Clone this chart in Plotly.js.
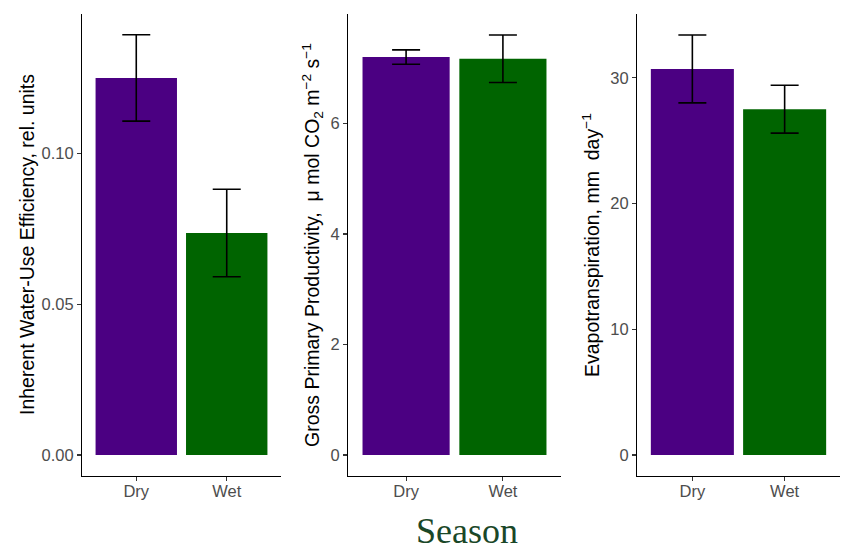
<!DOCTYPE html>
<html>
<head>
<meta charset="utf-8">
<script src="https://cdn.plot.ly/plotly-3.0.1.min.js"></script>
<style>html,body{margin:0;padding:0;background:#fff;}#chart{width:846px;height:550px;}</style>
</head>
<body>
<div id="chart"></div>
<script>
// ---- data ----
const seasons = ["Dry", "Wet"];
const barColors = ["#4B0082", "#006400"];

const wueMean = [0.125, 0.0736];
const wueErr  = [0.0143, 0.0145];

const gppMean = [7.20, 7.17];
const gppErr  = [0.13, 0.43];

const etMean = [30.7, 27.5];
const etErr  = [2.7, 1.9];

const wueTicks = [0, 0.05, 0.10];
const wueTickLabels = ["0.00", "0.05", "0.10"];
const gppTicks = [0, 2, 4, 6];
const etTicks = [0, 10, 20, 30];

const titles = [
  "Inherent Water-Use Efficiency, rel. units",
  "Gross Primary Productivity, &nbsp;\u03bc mol CO<sub>2</sub> m<sup>\u22122</sup> s<sup>\u22121</sup>",
  "Evapotranspiration, mm &nbsp;day<sup>\u22121</sup>"
];
const xTitle = "Season";

// ---- layout helpers ----
const W = 846, H = 550;
const plotTop = 14, plotBottom = 476;
const yDom = [(H - plotBottom) / H, (H - plotTop) / H];
const panels = [
  {left: 82, right: 281, mean: wueMean, err: wueErr, ticks: wueTicks, labels: wueTickLabels, range: [-0.00696, 0.1462], titleX: 27},
  {left: 348, right: 561, mean: gppMean, err: gppErr, ticks: gppTicks, labels: gppTicks.map(String), range: [-0.38, 7.98], titleX: 312},
  {left: 637, right: 840, mean: etMean, err: etErr, ticks: etTicks, labels: etTicks.map(String), range: [-1.67, 35.07], titleX: 591}
];

const data = [];
const layout = {
  width: W, height: H,
  margin: {l: 0, r: 0, t: 0, b: 0},
  paper_bgcolor: "#ffffff",
  plot_bgcolor: "#ffffff",
  showlegend: false,
  font: {family: "Liberation Sans, Arial, Helvetica, sans-serif", color: "#000"},
  annotations: []
};

panels.forEach((p, i) => {
  const n = i === 0 ? "" : String(i + 1);
  data.push({
    type: "bar",
    x: seasons,
    y: p.mean,
    width: 0.9,
    xaxis: "x" + n,
    yaxis: "y" + n,
    marker: {color: barColors, line: {width: 0}},
    error_y: {type: "data", array: p.err, visible: true, color: "#000000", thickness: 1.6, width: 14},
    hoverinfo: "skip"
  });
  layout["xaxis" + n] = {
    domain: [p.left / W, p.right / W],
    anchor: "y" + n,
    type: "category",
    range: [-0.6, 1.6],
    showline: true, linecolor: "#000", linewidth: 1.1,
    showgrid: false, zeroline: false,
    ticks: "outside", ticklen: 4, tickwidth: 1.1, tickcolor: "#333333",
    ticklabelstandoff: -4,
    tickfont: {size: 16.5, color: "#4d4d4d"},
    fixedrange: true
  };
  layout["yaxis" + n] = {
    domain: yDom,
    anchor: "x" + n,
    range: p.range,
    showline: true, linecolor: "#000", linewidth: 1.1,
    showgrid: false, zeroline: false,
    tickmode: "array", tickvals: p.ticks, ticktext: p.labels,
    ticks: "outside", ticklen: 4, tickwidth: 1.1, tickcolor: "#333333",
    tickfont: {size: 16.5, color: "#4d4d4d"},
    fixedrange: true
  };
  layout.annotations.push({
    text: titles[i],
    xref: "paper", yref: "paper",
    x: p.titleX / W, y: (H - (plotTop + plotBottom) / 2) / H,
    xanchor: "center", yanchor: "middle",
    textangle: -90, showarrow: false,
    font: {size: 19.5, color: "#000"}
  });
});

layout.annotations.push({
  text: xTitle,
  xref: "paper", yref: "paper",
  x: 467 / W, y: 0,
  xanchor: "center", yanchor: "bottom",
  yshift: -3,
  showarrow: false,
  font: {family: "Liberation Serif, Times New Roman, serif", size: 36, color: "#1a4728"}
});

Plotly.newPlot("chart", data, layout, {staticPlot: true, displayModeBar: false});
</script>
</body>
</html>
